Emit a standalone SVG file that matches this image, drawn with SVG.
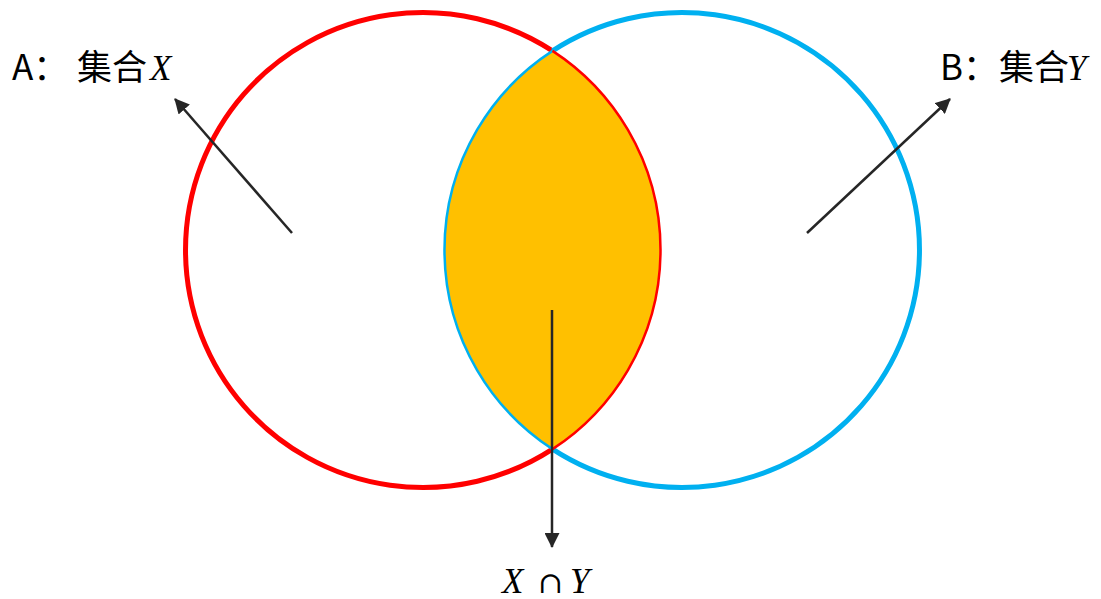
<svg xmlns="http://www.w3.org/2000/svg" width="1101" height="599" viewBox="0 0 1101 599">
<defs>
<style>
.lbl{font-family:"Noto Sans CJK SC","Noto Sans",sans-serif;font-size:35px;fill:#000}
.m{font-family:"Liberation Serif","DejaVu Serif",serif;font-style:italic}
.op{font-family:"DejaVu Serif","Liberation Serif",serif;font-style:normal;font-size:30px}
.arr{stroke:#262626;stroke-width:2.5;fill:none;marker-end:url(#ah)}
</style>
<marker id="ah" viewBox="0 0 15 15" markerWidth="15" markerHeight="15" refX="14" refY="7.5" markerUnits="userSpaceOnUse" orient="auto">
<path d="M0,0 L15,7.5 L0,15 Z" fill="#262626"/>
</marker>
</defs>
<rect width="1101" height="599" fill="#fff"/>
<g id="setX">
<path d="M552.5,50.9 A237.5,237.5 0 1 0 552.5,449.1" fill="none" stroke="#FF0000" stroke-width="5"/>
</g>
<g id="setY">
<path d="M552.5,50.9 A237.5,237.5 0 1 1 552.5,449.1" fill="none" stroke="#00B0F0" stroke-width="5"/>
</g>
<g id="intersection">
<path d="M552.5,50.9 A237.5,237.5 0 0 0 552.5,449.1 A237.5,237.5 0 0 0 552.5,50.9 Z" fill="#FFC000" stroke="none"/>
<path d="M552.5,50.9 A237.5,237.5 0 0 0 552.5,449.1" fill="none" stroke="#00B0F0" stroke-width="2.5"/>
<path d="M552.5,449.1 A237.5,237.5 0 0 0 552.5,50.9" fill="none" stroke="#FF0000" stroke-width="2.5"/>
</g>
<g id="connectors">
<line class="arr" x1="292" y1="233" x2="175" y2="99"/>
<line class="arr" x1="807" y1="233" x2="950" y2="99"/>
<line class="arr" x1="552" y1="310" x2="552" y2="547"/>
</g>
<g id="labelA">
<text class="lbl" x="12" y="80">A：<tspan x="77">集合</tspan><tspan class="m" x="150">X</tspan></text>
</g>
<g id="labelB">
<text class="lbl" x="940" y="80">B：<tspan x="999">集合</tspan><tspan class="m" x="1067">Y</tspan></text>
</g>
<g id="labelXY">
<text class="lbl" y="593"><tspan class="m" x="502">X</tspan><tspan class="op" x="538">∩</tspan><tspan class="m" x="570">Y</tspan></text>
</g>
</svg>
